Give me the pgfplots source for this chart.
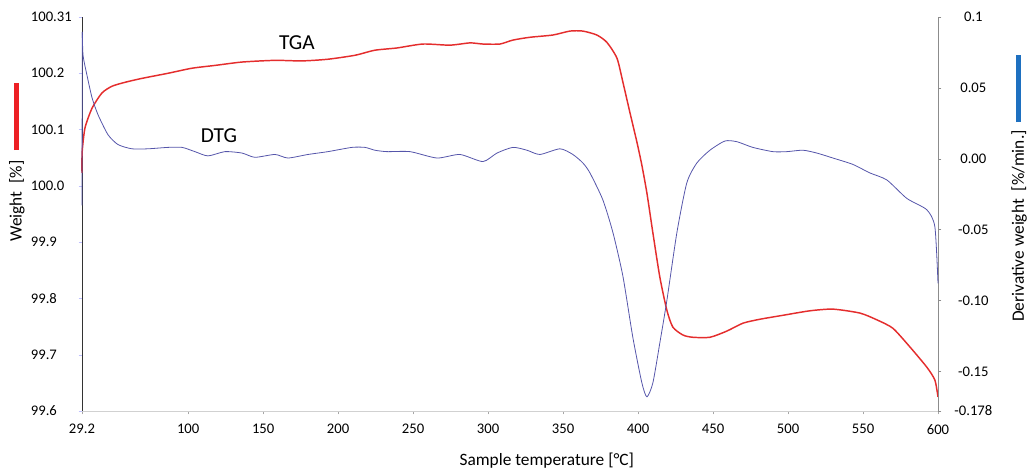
\documentclass[border=0pt]{standalone}
\usepackage{pgfplots}
\pgfplotsset{compat=1.18}
\usepackage{pgfplotstable}
\usepackage{fontspec}
\setmainfont{Carlito}
\definecolor{tgared}{RGB}{228,45,45}
\definecolor{dtgblue}{RGB}{85,85,170}
\definecolor{barred}{RGB}{237,32,36}
\definecolor{barblue}{RGB}{30,112,192}

\pgfplotstableread{
T w
29.2 100.023
29.3 100.060
31.2 100.103
35.9 100.138
42.5 100.165
49.2 100.177
57.9 100.184
69.2 100.191
86.5 100.200
102.5 100.209
117.9 100.214
135.9 100.220
157.9 100.223
175.9 100.222
193.2 100.225
211.2 100.232
224.5 100.241
239.2 100.245
256.5 100.252
274.5 100.250
287.9 100.254
296.5 100.252
307.9 100.252
316.5 100.259
327.9 100.264
343.2 100.268
354.5 100.275
363.2 100.275
372.5 100.268
379.2 100.255
385.9 100.227
389.9 100.184
394.5 100.131
399.2 100.078
402.5 100.037
405.9 99.987
409.9 99.916
414.5 99.838
419.2 99.779
423.2 99.749
429.9 99.735
436.5 99.731
447.9 99.731
459.2 99.742
469.9 99.756
481.2 99.763
496.5 99.770
514.5 99.778
529.9 99.781
547.9 99.774
559.2 99.762
569.9 99.747
581.2 99.714
592.5 99.678
597.9 99.655
600 99.625
}\tgadata

\pgfplotstableread{
T d
29.4 0.0895
29.9 0.073
32.5 0.059
35.9 0.043
39.9 0.031
46.5 0.017
53.2 0.010
62.5 0.007
73.2 0.007
86.5 0.008
95.9 0.008
104.5 0.005
113.2 0.002
124.5 0.005
135.9 0.004
144.5 0.001
157.9 0.003
166.5 0.0005
179.9 0.003
193.2 0.005
209.2 0.008
217.9 0.008
224.5 0.006
232.5 0.005
247.9 0.005
265.9 0.0005
281.2 0.003
296.5 -0.002
305.9 0.004
316.5 0.008
325.9 0.006
334.5 0.003
347.9 0.007
356.5 0.003
363.2 -0.003
367.9 -0.010
376.5 -0.029
383.2 -0.052
389.9 -0.083
396.5 -0.126
402.5 -0.158
405.9 -0.168
409.9 -0.158
414.5 -0.130
419.2 -0.100
425.9 -0.052
432.5 -0.017
439.2 -0.003
447.9 0.006
457.9 0.0125
465.9 0.012
476.5 0.008
489.9 0.005
499.2 0.005
509.9 0.006
519.2 0.004
529.9 0.0005
543.2 -0.004
554.5 -0.010
565.9 -0.015
579.2 -0.028
592.5 -0.036
597.9 -0.048
600 -0.088
}\dtgdata

\begin{document}
\begin{tikzpicture}
\useasboundingbox (-61.5pt,-45.75pt) rectangle (708.75pt,308.25pt);
\begin{axis}[
  scale only axis, width=642pt, height=295.5pt,
  xmin=29.2, xmax=600, ymin=99.6, ymax=100.3,
  axis y line*=left, axis x line*=bottom,
  x axis line style={draw=black!18, -},
  y axis line style={draw=black!80, -},
  xtick={29.2,100,150,200,250,300,350,400,450,500,550,600},
  xticklabels={29.2,100,150,200,250,300,350,400,450,500,550,600},
  ytick={99.6,99.7,99.8,99.9,100.0,100.1,100.2,100.3},
  yticklabels={99.6,99.7,99.8,99.9,100.0,100.1,100.2,100.31},
  tick label style={font=\fontsize{11}{13}\selectfont},
  xticklabel style={yshift=-4pt},
  yticklabel style={anchor=west, inner sep=0pt, xshift=-36pt},
  xtick style={draw=black!35},
  ytick style={draw=blue!25},
  tick align=outside, major tick length=2.5pt,
  xlabel={Sample temperature [°C]},
  xlabel style={at={(axis description cs:0.543,0)}, anchor=center, yshift=-37pt, font=\fontsize{13}{15}\selectfont},
  ylabel={Weight\ \ [\%]},
  ylabel style={at={(axis description cs:-0.076,0.533)}, anchor=center, font=\fontsize{13}{15}\selectfont},
  clip=false,
]
\addplot[tgared, line width=1.1pt, smooth, tension=0.4] table[x=T, y=w] {\tgadata};
\node[font=\fontsize{16}{18}\selectfont] at (axis cs:172.5,100.255) {TGA};
\node[font=\fontsize{16}{18}\selectfont] at (axis cs:120.5,100.09) {DTG};
\end{axis}
\begin{axis}[
  scale only axis, width=642pt, height=295.5pt,
  xmin=29.2, xmax=600, ymin=-0.178, ymax=0.1,
  axis y line*=right, axis x line=none,
  y axis line style={draw=black!45, -},
  ytick={-0.178,-0.15,-0.1,-0.05,0,0.05,0.1},
  yticklabels={-0.178,-0.15,-0.10,-0.05,0.00,0.05,0.1},
  tick label style={font=\fontsize{11}{13}\selectfont},
  yticklabel style={anchor=center, xshift=24pt},
  ytick style={draw=black!45},
  tick align=outside, major tick length=2.5pt,
  ylabel={Derivative weight\ \ [\%/min.]},
  ylabel style={at={(axis description cs:1.0946,0.4695)}, anchor=center, font=\fontsize{13}{15}\selectfont},
  clip=false,
]
\addplot[dtgblue, line width=0.6pt] coordinates {(29.2,-0.033) (29.4,0.0895)};
\addplot[dtgblue, line width=0.6pt, smooth, tension=0.4] table[x=T, y=d] {\dtgdata};
\end{axis}
\draw[barred, line width=3.75pt] (-49.1pt,195.75pt) -- (-49.1pt,246pt);
\draw[barblue, line width=3.75pt] (702.4pt,216.75pt) -- (702.4pt,267pt);
\end{tikzpicture}
\end{document}
